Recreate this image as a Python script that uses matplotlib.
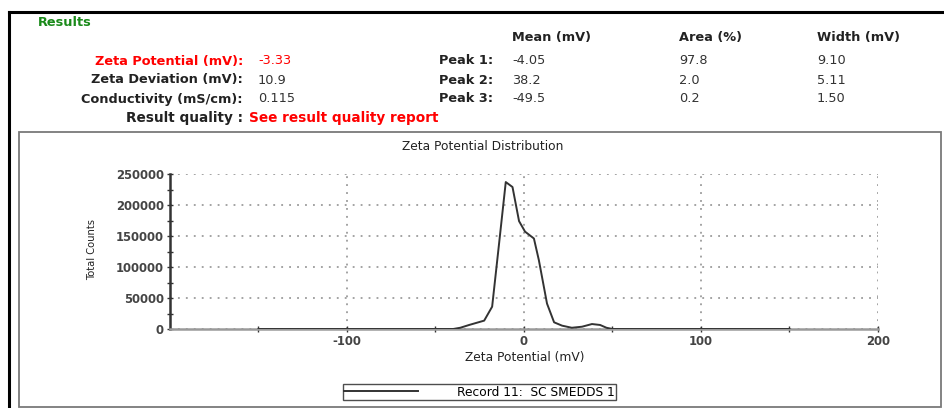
import numpy as np
import matplotlib
matplotlib.use("Agg")
import matplotlib.pyplot as plt
from matplotlib.lines import Line2D
from matplotlib.patches import Rectangle

plt.rcParams['font.family'] = ['DejaVu Sans']

# zeta potential distribution
zeta_mv = [-150, -100, -50, -40, -36, -31, -22.5, -18, -14, -10.3, -6.5, -2.8, 0.6, 5.6,
           8.4, 13, 17, 21.5, 27, 32.8, 38.4, 43, 46.6, 50, 100, 150]
counts = [0, 0, 0, 0, 2000, 6500, 13500, 36000, 140000, 237000, 229000, 174000, 157000, 146000,
          111000, 41000, 10800, 5400, 2000, 3700, 8000, 6500, 2000, 0, 0, 0]

x_major = [-100, 0, 100, 200]
x_minor = [-150, -50, 50, 150]
y_major = [0, 50000, 100000, 150000, 200000, 250000]

left_labels = ["Zeta Potential (mV):", "Zeta Deviation (mV):", "Conductivity (mS/cm):"]
left_values = ["-3.33", "10.9", "0.115"]
peak_labels = ["Peak 1:", "Peak 2:", "Peak 3:"]
peak_mean = ["-4.05", "38.2", "-49.5"]
peak_area = ["97.8", "2.0", "0.2"]
peak_width = ["9.10", "5.11", "1.50"]

W, H = 945, 408
fig = plt.figure(figsize=(W / 100, H / 100), dpi=100)


def fx(px):
    return px / W


def fy(py):
    return 1 - py / H


# frames
fig.add_artist(Line2D([fx(9), fx(945)], [fy(12), fy(12)], color='black', lw=2.2))
fig.add_artist(Line2D([fx(9), fx(9)], [fy(12), fy(408)], color='black', lw=2.2))
fig.add_artist(Rectangle((fx(19), fy(407)), fx(922), 275 / H, fill=False,
                         edgecolor='#7a7a7a', lw=1.3, transform=fig.transFigure))

# header block
hs = 9.3
fig.text(fx(38), fy(22), "Results", color='#1a8a1a', fontsize=hs, fontweight='bold', va='center')
rows_y = [61, 80, 99]
for i, yy in enumerate(rows_y):
    col = 'red' if i == 0 else '#222222'
    fig.text(fx(243), fy(yy), left_labels[i], color=col, fontsize=hs, fontweight='bold',
             ha='right', va='center')
    fig.text(fx(258), fy(yy), left_values[i], color=col if i == 0 else '#333333', fontsize=hs,
             ha='left', va='center')
    fig.text(fx(493), fy(yy), peak_labels[i], color='#222222', fontsize=hs, fontweight='bold',
             ha='right', va='center')
    fig.text(fx(512), fy(yy), peak_mean[i], color='#333333', fontsize=hs, va='center')
    fig.text(fx(679), fy(yy), peak_area[i], color='#333333', fontsize=hs, va='center')
    fig.text(fx(817), fy(yy), peak_width[i], color='#333333', fontsize=hs, va='center')
fig.text(fx(512), fy(38), "Mean (mV)", color='#222222', fontsize=hs, fontweight='bold', va='center')
fig.text(fx(679), fy(38), "Area (%)", color='#222222', fontsize=hs, fontweight='bold', va='center')
fig.text(fx(817), fy(38), "Width (mV)", color='#222222', fontsize=hs, fontweight='bold', va='center')
fig.text(fx(243), fy(118), "Result quality :", color='#222222', fontsize=hs + 0.5,
         fontweight='bold', ha='right', va='center')
fig.text(fx(249), fy(118), "See result quality report", color='red', fontsize=hs + 0.5,
         fontweight='bold', ha='left', va='center')

# plot
ax = fig.add_axes([fx(170), fy(329), (878 - 170) / W, (329 - 174) / H])
ax.plot(zeta_mv, counts, color='#333333', lw=1.4, zorder=3, label="Record 11:  SC SMEDDS 1")
ax.set_xlim(-200, 200)
ax.set_ylim(0, 250000)
ax.set_xticks(x_major)
ax.set_xticks(x_minor, minor=True)
ax.set_yticks(y_major)
ax.set_yticks(np.arange(25000, 250000, 50000), minor=True)
ax.tick_params(axis='both', which='both', direction='inout', colors='#333333', labelsize=8.4)
ax.tick_params(axis='y', which='major', length=5, width=1, pad=2)
ax.tick_params(axis='y', which='minor', length=4, width=1)
ax.tick_params(axis='x', which='both', length=4, width=1, pad=2)
for s in ['top', 'right']:
    ax.spines[s].set_visible(False)
ax.spines['left'].set_color('#333333')
ax.spines['left'].set_linewidth(1.8)
ax.spines['bottom'].set_color('#9a9a9a')
ax.spines['bottom'].set_linewidth(1.8)
ax.grid(True, which='major', color='#8a8a8a', linestyle=(0, (1.2, 4)), lw=1.1)
ax.set_axisbelow(True)
ax.set_xticklabels(["-100", "0", "100", "200"])
for lab in ax.get_yticklabels() + ax.get_xticklabels():
    lab.set_fontweight('bold')
    lab.set_color('#444444')

fig.text(fx(483), fy(147), "Zeta Potential Distribution", fontsize=8.8, ha='center', va='center',
         color='#222222')
fig.text(fx(525), fy(357), "Zeta Potential (mV)", fontsize=8.8, ha='center', va='center',
         color='#222222')
fig.text(fx(92), fy(250), "Total Counts", fontsize=7.2, ha='center', va='center', rotation=90,
         color='#222222', family=['Liberation Sans Narrow', 'DejaVu Sans'])

leg = fig.legend(loc='center', bbox_to_anchor=(fx(479.5), fy(392)), fontsize=8.8, frameon=True,
                 fancybox=False, edgecolor='#222222', handlelength=6.0, borderpad=0.1,
                 handletextpad=3.2, borderaxespad=0)
leg.get_frame().set_linewidth(1.0)

fig.savefig("out.png", dpi=100)
